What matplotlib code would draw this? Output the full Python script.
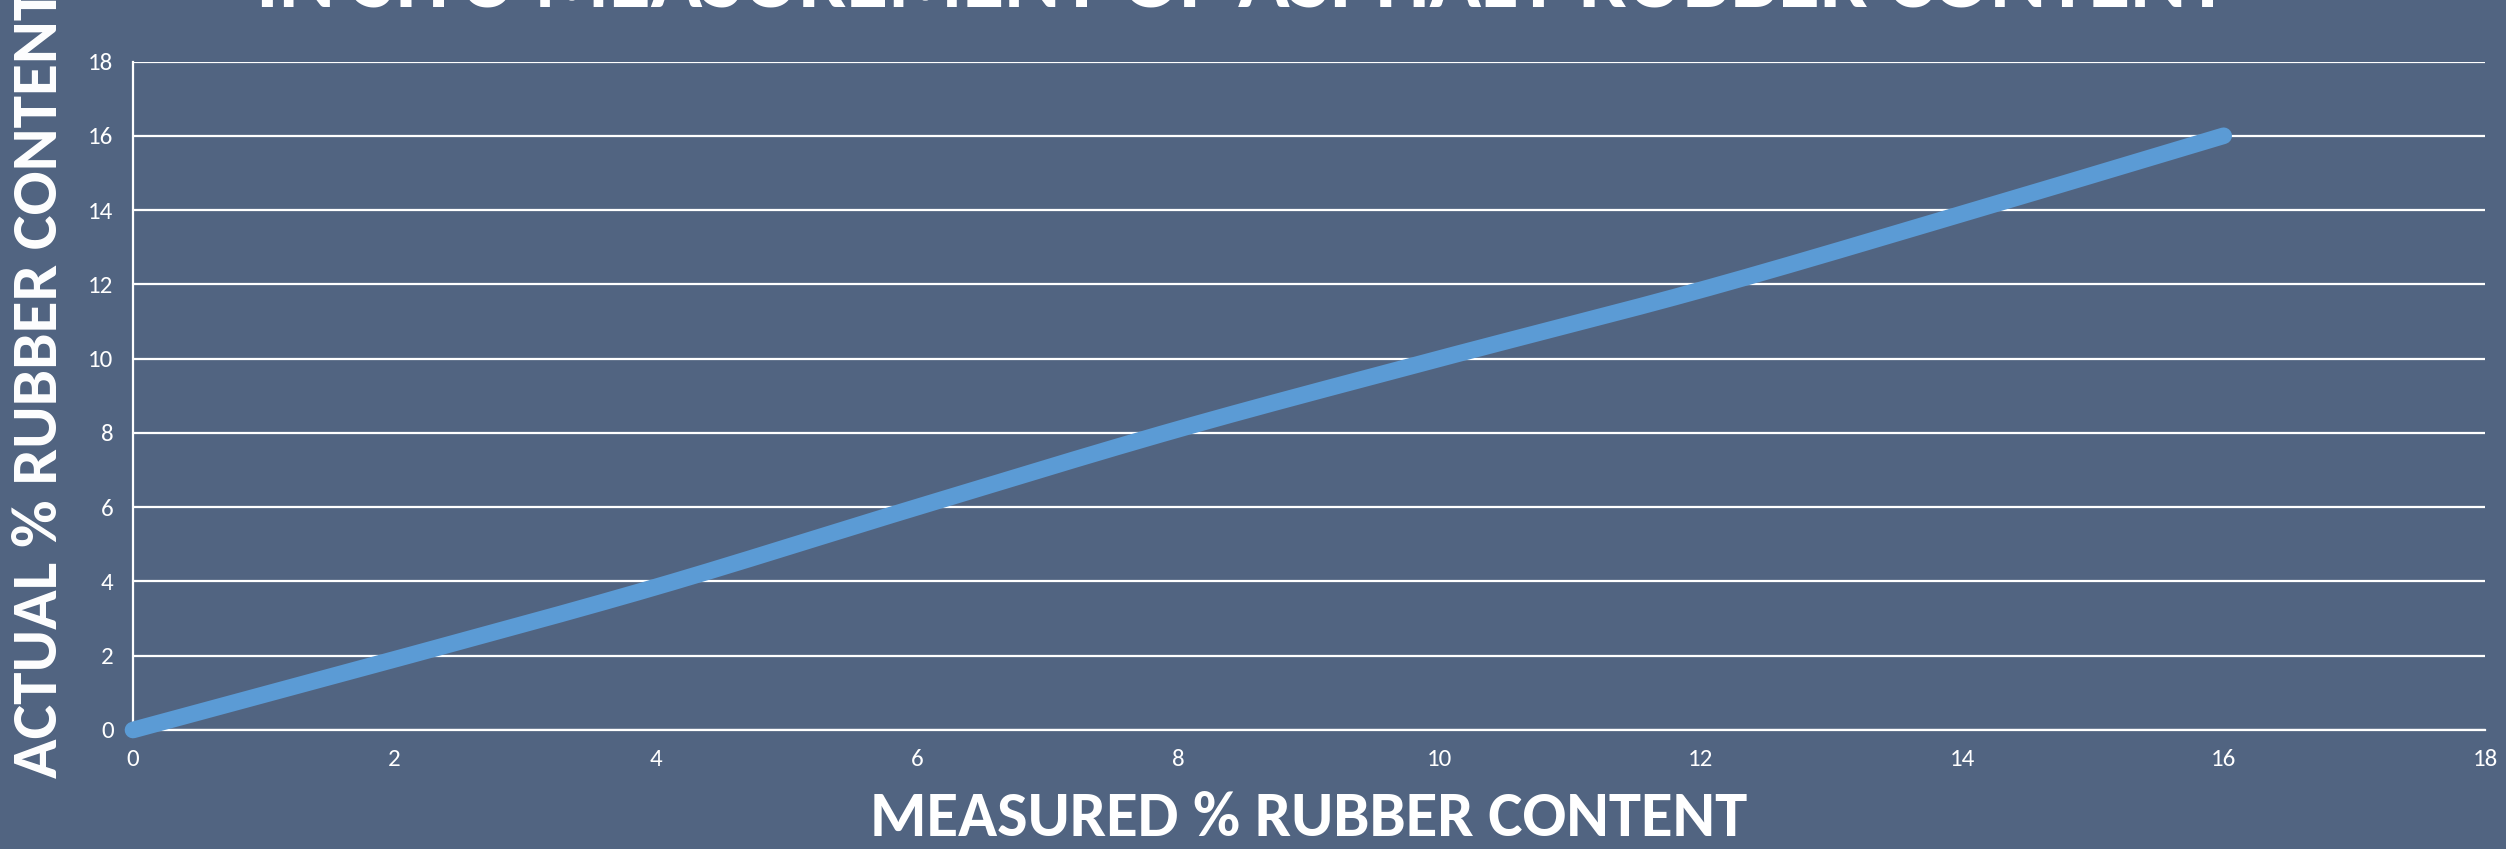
import matplotlib.pyplot as plt
import numpy as np
from matplotlib import font_manager

measured = [0, 2, 4, 6, 8, 10, 12, 14, 16]
actual = [0, 1.9, 3.85, 6.0, 8.1, 10.0, 11.85, 13.9, 16.0]

title = "IN SITU MEASUREMENT OF ASPHALT RUBBER CONTENT"
x_label = "MEASURED % RUBBER CONTENT"
y_label = "ACTUAL % RUBBER CONTENT"

BG = "#516481"
LINE = "#5b9bd5"

names = {f.name for f in font_manager.fontManager.ttflist}
for cand in ["Carlito", "Open Sans Condensed", "Asap Condensed", "Barlow Semi Condensed", "DejaVu Sans"]:
    if cand in names:
        FONT = cand
        break


def smooth(xs, ys, n=30):
    """catmull-rom pass through the points, like a spreadsheet smoothed line"""
    pts = np.column_stack([xs, ys]).astype(float)
    pts = np.vstack([pts[0], pts, pts[-1]])
    out = []
    for i in range(1, len(pts) - 2):
        p0, p1, p2, p3 = pts[i - 1], pts[i], pts[i + 1], pts[i + 2]
        t = np.linspace(0, 1, n, endpoint=False)[:, None]
        seg = 0.5 * (2 * p1 + (-p0 + p2) * t
                     + (2 * p0 - 5 * p1 + 4 * p2 - p3) * t ** 2
                     + (-p0 + 3 * p1 - 3 * p2 + p3) * t ** 3)
        out.append(seg)
    out.append(pts[-2][None, :])
    out = np.vstack(out)
    return out[:, 0], out[:, 1]


fig = plt.figure(figsize=(25.06, 8.49), dpi=100, facecolor=BG)
ax = fig.add_axes([133 / 2506, 1 - 730 / 849, (2485 - 133) / 2506, (730 - 61.5) / 849])
ax.set_facecolor(BG)

sx, sy = smooth(measured, actual)
ax.plot(sx, sy, color=LINE, lw=12, solid_capstyle="round", zorder=3, clip_on=False)

ax.set_xlim(0, 18)
ax.set_ylim(0, 18)
ax.set_xticks(range(0, 19, 2))
ax.set_yticks(range(0, 19, 2))
ax.grid(axis="y", color="white", lw=1.6)
ax.set_axisbelow(True)
for side in ["top", "right"]:
    ax.spines[side].set_visible(False)
for side in ["left", "bottom"]:
    ax.spines[side].set_color("white")
    ax.spines[side].set_linewidth(1.6)
ax.tick_params(length=0, colors="white", labelsize=18, pad=14)
for lab in ax.get_xticklabels() + ax.get_yticklabels():
    lab.set_fontfamily(FONT)

fig.text(1309 / 2506, 1 - 818 / 849, x_label, color="white", fontsize=46.5,
         fontweight="bold", family=FONT, ha="center", va="center")
fig.text(40 / 2506, 1 - 383 / 849, y_label, color="white", fontsize=47,
         fontweight="bold", family=FONT, ha="center", va="center", rotation=90)
fig.text(1242 / 2506, 1 - 8 / 849, title, color="white", fontsize=61.5,
         fontweight="bold", family=FONT, ha="center", va="baseline")

fig.savefig("out.png", dpi=100, facecolor=BG)
